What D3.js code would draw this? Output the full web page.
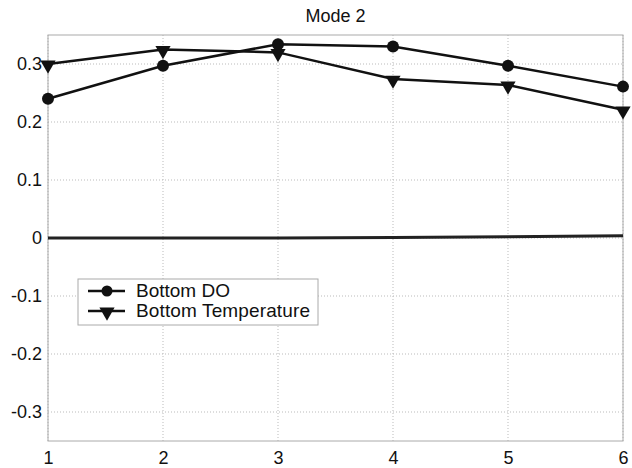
<!DOCTYPE html>
<html>
<head>
<meta charset="utf-8">
<title>Mode 2</title>
<script src="https://d3js.org/d3.v7.min.js"></script>
<style>
  body { margin: 0; background: #fff; }
  text { font-family: "Liberation Sans", Arial, sans-serif; fill: #111; }
</style>
</head>
<body>
<div id="stage"></div>
<script>
// data
var modes = [1, 2, 3, 4, 5, 6];
var bottomDO = [0.24, 0.297, 0.334, 0.330, 0.297, 0.261];
var bottomTemp = [0.300, 0.325, 0.320, 0.274, 0.264, 0.221];
var zeroLine = [0, 0, 0, 0.001, 0.002, 0.004];
var yTicks = [-0.3, -0.2, -0.1, 0, 0.1, 0.2, 0.3];
var legendLabels = ["Bottom DO", "Bottom Temperature"];

var width = 632, height = 468;
var margin = { left: 48, right: 9, top: 35, bottom: 27 };

var svg = d3.select("#stage").append("svg")
    .attr("width", width)
    .attr("height", height);

var x = d3.scaleLinear().domain([1, 6]).range([margin.left, width - margin.right]);
var y = d3.scaleLinear().domain([-0.35, 0.35]).range([height - margin.bottom, margin.top]);

// dotted grid
svg.append("g").selectAll("line")
    .data(modes)
    .enter().append("line")
    .attr("x1", function(d) { return x(d); })
    .attr("x2", function(d) { return x(d); })
    .attr("y1", y(0.35)).attr("y2", y(-0.35))
    .attr("stroke", "#bbb").attr("stroke-width", 1)
    .attr("stroke-dasharray", "1,2");

svg.append("g").selectAll("line")
    .data(yTicks)
    .enter().append("line")
    .attr("x1", x(1)).attr("x2", x(6))
    .attr("y1", function(d) { return y(d); })
    .attr("y2", function(d) { return y(d); })
    .attr("stroke", "#bbb").attr("stroke-width", 1)
    .attr("stroke-dasharray", "1,2");

// axes box
svg.append("rect")
    .attr("x", x(1)).attr("y", y(0.35))
    .attr("width", x(6) - x(1)).attr("height", y(-0.35) - y(0.35))
    .attr("fill", "none").attr("stroke", "#aaa").attr("stroke-width", 1);

// axes
svg.append("g")
    .attr("transform", "translate(0," + y(-0.35) + ")")
    .call(d3.axisBottom(x).tickValues(modes).tickFormat(d3.format("d")).tickSize(0).tickPadding(10));
svg.append("g")
    .attr("transform", "translate(" + x(1) + ",0)")
    .call(d3.axisLeft(y).tickValues(yTicks)
        .tickFormat(function(d) { return d === 0 ? "0" : (d < 0 ? "-" : "") + Math.abs(d).toFixed(1); })
        .tickSize(0).tickPadding(6));
svg.selectAll(".domain").remove();
svg.selectAll(".tick text")
    .style("font-size", "18px")
    .style("font-family", "Liberation Sans, Arial, sans-serif")
    .attr("fill", "#111");

// title
svg.append("text")
    .attr("x", (x(1) + x(6)) / 2)
    .attr("y", 22)
    .attr("text-anchor", "middle")
    .style("font-size", "18px")
    .text("Mode 2");

var line = d3.line()
    .x(function(d, i) { return x(modes[i]); })
    .y(function(d) { return y(d); });

// zero line
svg.append("path")
    .datum(zeroLine)
    .attr("d", line)
    .attr("fill", "none").attr("stroke", "#222").attr("stroke-width", 3);

var triangle = d3.symbol().type(d3.symbolTriangle).size(100);

function drawSeries(values, marker) {
    svg.append("path")
        .datum(values)
        .attr("d", line)
        .attr("fill", "none").attr("stroke", "#111").attr("stroke-width", 2.5);
    var g = svg.append("g");
    if (marker === "circle") {
        g.selectAll("circle").data(values).enter().append("circle")
            .attr("cx", function(d, i) { return x(modes[i]); })
            .attr("cy", function(d) { return y(d); })
            .attr("r", 6).attr("fill", "#111");
    } else {
        g.selectAll("path").data(values).enter().append("path")
            .attr("d", triangle)
            .attr("transform", function(d, i) { return "translate(" + x(modes[i]) + "," + (y(d) + 1) + ") rotate(180)"; })
            .attr("fill", "#111");
    }
}

drawSeries(bottomDO, "circle");
drawSeries(bottomTemp, "triangle");

// legend
var legend = svg.append("g").attr("transform", "translate(78,279)");
legend.append("rect")
    .attr("width", 240).attr("height", 46)
    .attr("fill", "#fff").attr("stroke", "#aaa").attr("stroke-width", 1);
legendLabels.forEach(function(label, i) {
    var ly = 12 + i * 20;
    legend.append("line")
        .attr("x1", 10).attr("x2", 47).attr("y1", ly).attr("y2", ly)
        .attr("stroke", "#111").attr("stroke-width", 2.5);
    if (i === 0) {
        legend.append("circle").attr("cx", 29).attr("cy", ly).attr("r", 5.5).attr("fill", "#111");
    } else {
        legend.append("path").attr("d", triangle)
            .attr("transform", "translate(29," + (ly + 1) + ") rotate(180)")
            .attr("fill", "#111");
    }
    legend.append("text")
        .attr("x", 58).attr("y", ly + 6)
        .style("font-size", "19px")
        .attr("textLength", i === 1 ? 174 : null)
        .text(label);
});
</script>
</body>
</html>
